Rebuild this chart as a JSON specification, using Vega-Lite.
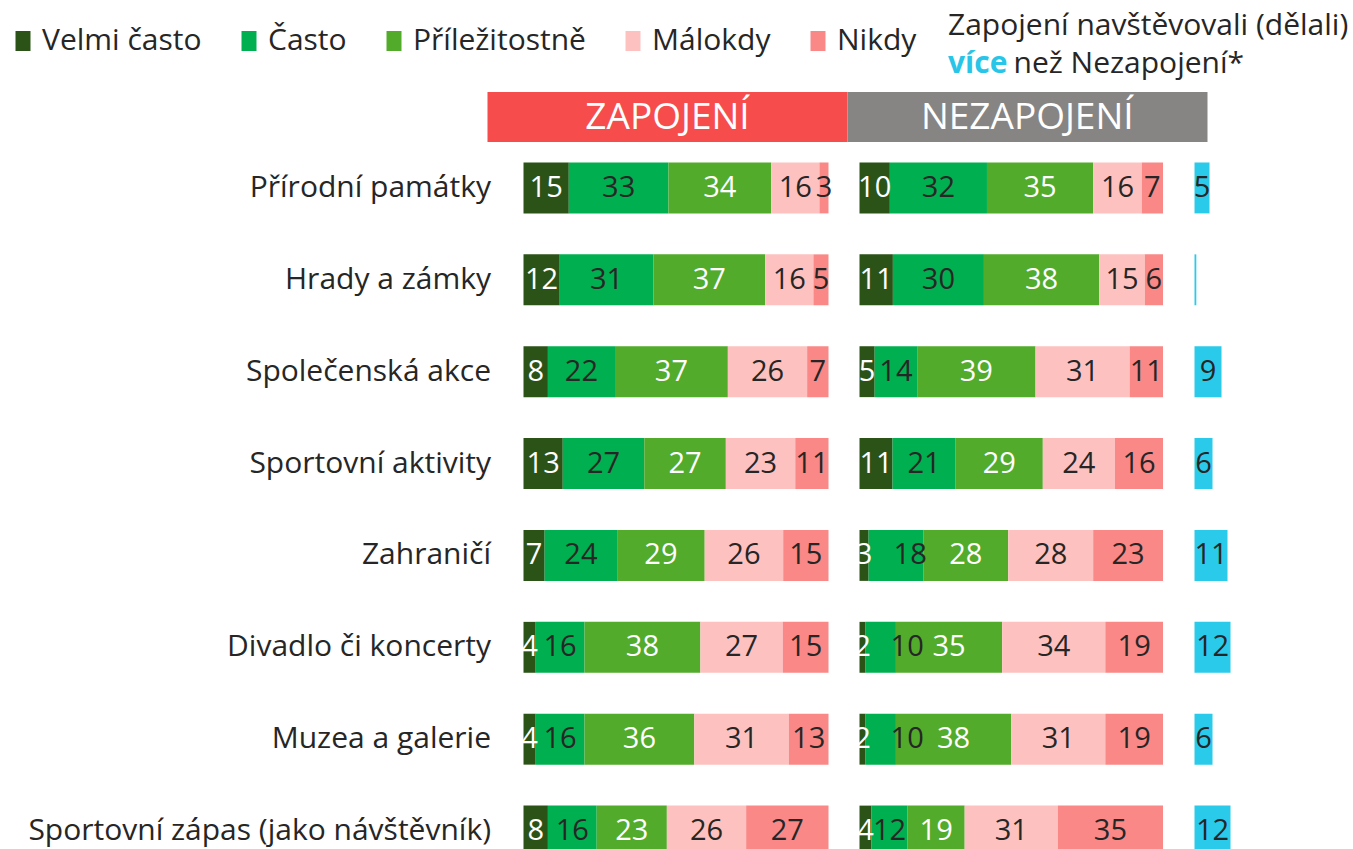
{
  "$schema": "https://vega.github.io/schema/vega-lite/v6.json",
  "padding": {"left": 7.5, "top": 10, "right": 5, "bottom": 0},
  "autosize": {"type": "pad"},
  "background": "white",
  "config": {"view": {"stroke": null}, "font": "Open Sans"},
  "datasets": {
    "main": [
      {"item": "Přírodní památky", "g": "Z", "cat": "Velmi často", "k": 1, "v": 15},
      {"item": "Přírodní památky", "g": "Z", "cat": "Často", "k": 2, "v": 33},
      {"item": "Přírodní památky", "g": "Z", "cat": "Příležitostně", "k": 3, "v": 34},
      {"item": "Přírodní památky", "g": "Z", "cat": "Málokdy", "k": 4, "v": 16},
      {"item": "Přírodní památky", "g": "Z", "cat": "Nikdy", "k": 5, "v": 3},
      {"item": "Hrady a zámky", "g": "Z", "cat": "Velmi často", "k": 1, "v": 12},
      {"item": "Hrady a zámky", "g": "Z", "cat": "Často", "k": 2, "v": 31},
      {"item": "Hrady a zámky", "g": "Z", "cat": "Příležitostně", "k": 3, "v": 37},
      {"item": "Hrady a zámky", "g": "Z", "cat": "Málokdy", "k": 4, "v": 16},
      {"item": "Hrady a zámky", "g": "Z", "cat": "Nikdy", "k": 5, "v": 5},
      {"item": "Společenská akce", "g": "Z", "cat": "Velmi často", "k": 1, "v": 8},
      {"item": "Společenská akce", "g": "Z", "cat": "Často", "k": 2, "v": 22},
      {"item": "Společenská akce", "g": "Z", "cat": "Příležitostně", "k": 3, "v": 37},
      {"item": "Společenská akce", "g": "Z", "cat": "Málokdy", "k": 4, "v": 26},
      {"item": "Společenská akce", "g": "Z", "cat": "Nikdy", "k": 5, "v": 7},
      {"item": "Sportovní aktivity", "g": "Z", "cat": "Velmi často", "k": 1, "v": 13},
      {"item": "Sportovní aktivity", "g": "Z", "cat": "Často", "k": 2, "v": 27},
      {"item": "Sportovní aktivity", "g": "Z", "cat": "Příležitostně", "k": 3, "v": 27},
      {"item": "Sportovní aktivity", "g": "Z", "cat": "Málokdy", "k": 4, "v": 23},
      {"item": "Sportovní aktivity", "g": "Z", "cat": "Nikdy", "k": 5, "v": 11},
      {"item": "Zahraničí", "g": "Z", "cat": "Velmi často", "k": 1, "v": 7},
      {"item": "Zahraničí", "g": "Z", "cat": "Často", "k": 2, "v": 24},
      {"item": "Zahraničí", "g": "Z", "cat": "Příležitostně", "k": 3, "v": 29},
      {"item": "Zahraničí", "g": "Z", "cat": "Málokdy", "k": 4, "v": 26},
      {"item": "Zahraničí", "g": "Z", "cat": "Nikdy", "k": 5, "v": 15},
      {"item": "Divadlo či koncerty", "g": "Z", "cat": "Velmi často", "k": 1, "v": 4},
      {"item": "Divadlo či koncerty", "g": "Z", "cat": "Často", "k": 2, "v": 16},
      {"item": "Divadlo či koncerty", "g": "Z", "cat": "Příležitostně", "k": 3, "v": 38},
      {"item": "Divadlo či koncerty", "g": "Z", "cat": "Málokdy", "k": 4, "v": 27},
      {"item": "Divadlo či koncerty", "g": "Z", "cat": "Nikdy", "k": 5, "v": 15},
      {"item": "Muzea a galerie", "g": "Z", "cat": "Velmi často", "k": 1, "v": 4},
      {"item": "Muzea a galerie", "g": "Z", "cat": "Často", "k": 2, "v": 16},
      {"item": "Muzea a galerie", "g": "Z", "cat": "Příležitostně", "k": 3, "v": 36},
      {"item": "Muzea a galerie", "g": "Z", "cat": "Málokdy", "k": 4, "v": 31},
      {"item": "Muzea a galerie", "g": "Z", "cat": "Nikdy", "k": 5, "v": 13},
      {"item": "Sportovní zápas (jako návštěvník)", "g": "Z", "cat": "Velmi často", "k": 1, "v": 8},
      {"item": "Sportovní zápas (jako návštěvník)", "g": "Z", "cat": "Často", "k": 2, "v": 16},
      {"item": "Sportovní zápas (jako návštěvník)", "g": "Z", "cat": "Příležitostně", "k": 3, "v": 23},
      {"item": "Sportovní zápas (jako návštěvník)", "g": "Z", "cat": "Málokdy", "k": 4, "v": 26},
      {"item": "Sportovní zápas (jako návštěvník)", "g": "Z", "cat": "Nikdy", "k": 5, "v": 27},
      {"item": "Přírodní památky", "g": "N", "cat": "Velmi často", "k": 1, "v": 10},
      {"item": "Přírodní památky", "g": "N", "cat": "Často", "k": 2, "v": 32},
      {"item": "Přírodní památky", "g": "N", "cat": "Příležitostně", "k": 3, "v": 35},
      {"item": "Přírodní památky", "g": "N", "cat": "Málokdy", "k": 4, "v": 16},
      {"item": "Přírodní památky", "g": "N", "cat": "Nikdy", "k": 5, "v": 7},
      {"item": "Hrady a zámky", "g": "N", "cat": "Velmi často", "k": 1, "v": 11},
      {"item": "Hrady a zámky", "g": "N", "cat": "Často", "k": 2, "v": 30},
      {"item": "Hrady a zámky", "g": "N", "cat": "Příležitostně", "k": 3, "v": 38},
      {"item": "Hrady a zámky", "g": "N", "cat": "Málokdy", "k": 4, "v": 15},
      {"item": "Hrady a zámky", "g": "N", "cat": "Nikdy", "k": 5, "v": 6},
      {"item": "Společenská akce", "g": "N", "cat": "Velmi často", "k": 1, "v": 5},
      {"item": "Společenská akce", "g": "N", "cat": "Často", "k": 2, "v": 14},
      {"item": "Společenská akce", "g": "N", "cat": "Příležitostně", "k": 3, "v": 39},
      {"item": "Společenská akce", "g": "N", "cat": "Málokdy", "k": 4, "v": 31},
      {"item": "Společenská akce", "g": "N", "cat": "Nikdy", "k": 5, "v": 11},
      {"item": "Sportovní aktivity", "g": "N", "cat": "Velmi často", "k": 1, "v": 11},
      {"item": "Sportovní aktivity", "g": "N", "cat": "Často", "k": 2, "v": 21},
      {"item": "Sportovní aktivity", "g": "N", "cat": "Příležitostně", "k": 3, "v": 29},
      {"item": "Sportovní aktivity", "g": "N", "cat": "Málokdy", "k": 4, "v": 24},
      {"item": "Sportovní aktivity", "g": "N", "cat": "Nikdy", "k": 5, "v": 16},
      {"item": "Zahraničí", "g": "N", "cat": "Velmi často", "k": 1, "v": 3},
      {"item": "Zahraničí", "g": "N", "cat": "Často", "k": 2, "v": 18},
      {"item": "Zahraničí", "g": "N", "cat": "Příležitostně", "k": 3, "v": 28},
      {"item": "Zahraničí", "g": "N", "cat": "Málokdy", "k": 4, "v": 28},
      {"item": "Zahraničí", "g": "N", "cat": "Nikdy", "k": 5, "v": 23},
      {"item": "Divadlo či koncerty", "g": "N", "cat": "Velmi často", "k": 1, "v": 2},
      {"item": "Divadlo či koncerty", "g": "N", "cat": "Často", "k": 2, "v": 10},
      {"item": "Divadlo či koncerty", "g": "N", "cat": "Příležitostně", "k": 3, "v": 35},
      {"item": "Divadlo či koncerty", "g": "N", "cat": "Málokdy", "k": 4, "v": 34},
      {"item": "Divadlo či koncerty", "g": "N", "cat": "Nikdy", "k": 5, "v": 19},
      {"item": "Muzea a galerie", "g": "N", "cat": "Velmi často", "k": 1, "v": 2},
      {"item": "Muzea a galerie", "g": "N", "cat": "Často", "k": 2, "v": 10},
      {"item": "Muzea a galerie", "g": "N", "cat": "Příležitostně", "k": 3, "v": 38},
      {"item": "Muzea a galerie", "g": "N", "cat": "Málokdy", "k": 4, "v": 31},
      {"item": "Muzea a galerie", "g": "N", "cat": "Nikdy", "k": 5, "v": 19},
      {"item": "Sportovní zápas (jako návštěvník)", "g": "N", "cat": "Velmi často", "k": 1, "v": 4},
      {"item": "Sportovní zápas (jako návštěvník)", "g": "N", "cat": "Často", "k": 2, "v": 12},
      {"item": "Sportovní zápas (jako návštěvník)", "g": "N", "cat": "Příležitostně", "k": 3, "v": 19},
      {"item": "Sportovní zápas (jako návštěvník)", "g": "N", "cat": "Málokdy", "k": 4, "v": 31},
      {"item": "Sportovní zápas (jako návštěvník)", "g": "N", "cat": "Nikdy", "k": 5, "v": 35}
    ],
    "diff": [
      {"item": "Přírodní památky", "d": 5},
      {"item": "Hrady a zámky", "d": 0.6},
      {"item": "Společenská akce", "d": 9},
      {"item": "Sportovní aktivity", "d": 6},
      {"item": "Zahraničí", "d": 11},
      {"item": "Divadlo či koncerty", "d": 12},
      {"item": "Muzea a galerie", "d": 6},
      {"item": "Sportovní zápas (jako návštěvník)", "d": 12}
    ]
  },
  "columns": 3,
  "align": "each",
  "bounds": "flush",
  "spacing": {"row": -1, "column": 31},
  "resolve": {"scale": {"color": "shared"}, "legend": {"color": "shared"}},
  "concat": [
    {
      "width": 305,
      "height": 50,
      "data": {"values": [{"h": "ZAPOJENÍ"}]},
      "layer": [
        {
          "mark": {"type": "rect", "color": "#F64C4B", "xOffset": -36, "x2Offset": 19},
          "encoding": {
            "x": {"datum": 0, "type": "quantitative", "scale": {"domain": [0, 1]}, "axis": null},
            "x2": {"datum": 1}
          }
        },
        {
          "mark": {"type": "text", "color": "white", "fontSize": 37, "dx": -8.5, "dy": 1},
          "encoding": {
            "x": {"datum": 0.5, "type": "quantitative"},
            "text": {"field": "h"}
          }
        }
      ]
    },
    {
      "width": 303.5,
      "height": 50,
      "data": {"values": [{"h": "NEZAPOJENÍ"}]},
      "title": {"text": "než Nezapojení*", "anchor": "start", "frame": "group", "orient": "top", "dx": 154, "offset": 13.5, "fontSize": 30, "fontWeight": "normal", "color": "#262626", "font": "Open Sans"},
      "layer": [
        {
          "mark": {"type": "rect", "color": "#868583", "xOffset": -12, "x2Offset": 44.5},
          "encoding": {
            "x": {"datum": 0, "type": "quantitative", "scale": {"domain": [0, 1]}, "axis": null},
            "x2": {"datum": 1}
          }
        },
        {
          "mark": {"type": "text", "color": "white", "fontSize": 37, "dx": 16, "dy": 1},
          "encoding": {
            "x": {"datum": 0.5, "type": "quantitative"},
            "text": {"field": "h"}
          }
        }
      ]
    },
    {
      "width": 45,
      "height": 50,
      "data": {"values": [{"h": ""}]},
      "title": {"text": "Zapojení navštěvovali (dělali)", "subtitle": "více", "anchor": "start", "frame": "group", "orient": "top", "dx": -246.5, "offset": 13.5, "fontSize": 30, "fontWeight": "normal", "color": "#262626", "font": "Open Sans", "subtitleFont": "Open Sans", "subtitleFontSize": 30, "subtitleFontWeight": "bold", "subtitleColor": "#29C5E8", "subtitlePadding": 8},
      "mark": {"type": "rect", "opacity": 0},
      "encoding": {}
    },
    {
      "width": 305,
      "height": 735,
      "data": {"name": "main"},
      "transform": [{"filter": "datum.g === 'Z'"}],
      "encoding": {
        "y": {"field": "item", "type": "nominal", "sort": null, "scale": {"paddingInner": 0.446, "paddingOuter": 0.223}, "axis": {"title": null, "ticks": false, "domain": false, "labelPadding": 33, "labelFontSize": 30, "labelColor": "#262626", "labelLimit": 600, "labelFont": "Open Sans"}},
        "x": {"field": "v", "type": "quantitative", "stack": "normalize", "axis": null},
        "order": {"field": "k"}
      },
      "layer": [
        {
          "mark": {"type": "bar"},
          "encoding": {
            "color": {
              "field": "cat", "type": "nominal",
              "scale": {"domain": ["Velmi často", "Často", "Příležitostně", "Málokdy", "Nikdy"], "range": ["#2B5317", "#00AF4F", "#52AB2B", "#FDC2C0", "#F98886"]},
              "legend": {"title": null, "orient": "none", "legendX": -515.5, "legendY": -66, "padding": 0, "direction": "horizontal", "symbolType": "M-0.75,-1h1.5v2h-1.5z", "symbolSize": 400, "symbolStrokeWidth": 0, "symbolOpacity": 1, "labelFontSize": 30, "labelFont": "Open Sans", "labelColor": "#262626", "labelOffset": 4, "columnPadding": 32, "labelLimit": 400}
            }
          }
        },
        {
          "mark": {"type": "text", "fontSize": 29},
          "encoding": {
            "x": {"field": "v", "type": "quantitative", "stack": "normalize", "bandPosition": 0.5, "axis": null},
            "text": {"field": "v"},
            "color": {"condition": {"test": "datum.cat === 'Velmi často' || datum.cat === 'Příležitostně'", "value": "white"}, "value": "#262626"}
          }
        }
      ]
    },
    {
      "width": 303.5,
      "height": 735,
      "data": {"name": "main"},
      "transform": [{"filter": "datum.g === 'N'"}],
      "encoding": {
        "y": {"field": "item", "type": "nominal", "sort": null, "scale": {"paddingInner": 0.446, "paddingOuter": 0.223}, "axis": null},
        "x": {"field": "v", "type": "quantitative", "stack": "normalize", "axis": null},
        "order": {"field": "k"}
      },
      "layer": [
        {
          "mark": {"type": "bar"},
          "encoding": {
            "color": {
              "field": "cat", "type": "nominal",
              "scale": {"domain": ["Velmi často", "Často", "Příležitostně", "Málokdy", "Nikdy"], "range": ["#2B5317", "#00AF4F", "#52AB2B", "#FDC2C0", "#F98886"]},
              "legend": {"title": null, "orient": "none", "legendX": -515.5, "legendY": -66, "padding": 0, "direction": "horizontal", "symbolType": "M-0.75,-1h1.5v2h-1.5z", "symbolSize": 400, "symbolStrokeWidth": 0, "symbolOpacity": 1, "labelFontSize": 30, "labelFont": "Open Sans", "labelColor": "#262626", "labelOffset": 4, "columnPadding": 32, "labelLimit": 400}
            }
          }
        },
        {
          "mark": {"type": "text", "fontSize": 29},
          "encoding": {
            "x": {"field": "v", "type": "quantitative", "stack": "normalize", "bandPosition": 0.5, "axis": null},
            "text": {"condition": {"test": "datum.cat === 'Často' && (datum.item === 'Zahraničí' || datum.item === 'Divadlo či koncerty' || datum.item === 'Muzea a galerie')", "value": ""}, "field": "v"},
            "color": {"condition": {"test": "datum.cat === 'Velmi často' || datum.cat === 'Příležitostně'", "value": "white"}, "value": "#262626"}
          }
        },
        {
          "mark": {"type": "text", "fontSize": 29, "align": "left", "dx": 25, "color": "#262626"},
          "encoding": {
            "x": {"field": "v", "type": "quantitative", "stack": "normalize", "bandPosition": 0, "axis": null},
            "text": {"condition": {"test": "datum.cat === 'Často' && (datum.item === 'Zahraničí' || datum.item === 'Divadlo či koncerty' || datum.item === 'Muzea a galerie')", "field": "v"}, "value": ""}
          }
        }
      ]
    },
    {
      "width": 45,
      "height": 735,
      "data": {"name": "diff"},
      "encoding": {
        "y": {"field": "item", "type": "nominal", "sort": null, "scale": {"paddingInner": 0.446, "paddingOuter": 0.223}, "axis": null}
      },
      "layer": [
        {
          "mark": {"type": "bar", "color": "#2ACBEA"},
          "encoding": {
            "x": {"field": "d", "type": "quantitative", "scale": {"domain": [0, 15], "nice": false}, "axis": null}
          }
        },
        {
          "transform": [{"filter": "datum.d >= 1"}],
          "mark": {"type": "text", "fontSize": 29, "color": "#262626"},
          "encoding": {
            "x": {"field": "d", "type": "quantitative", "stack": "zero", "bandPosition": 0.5, "axis": null},
            "text": {"field": "d"}
          }
        }
      ]
    }
  ]
}
